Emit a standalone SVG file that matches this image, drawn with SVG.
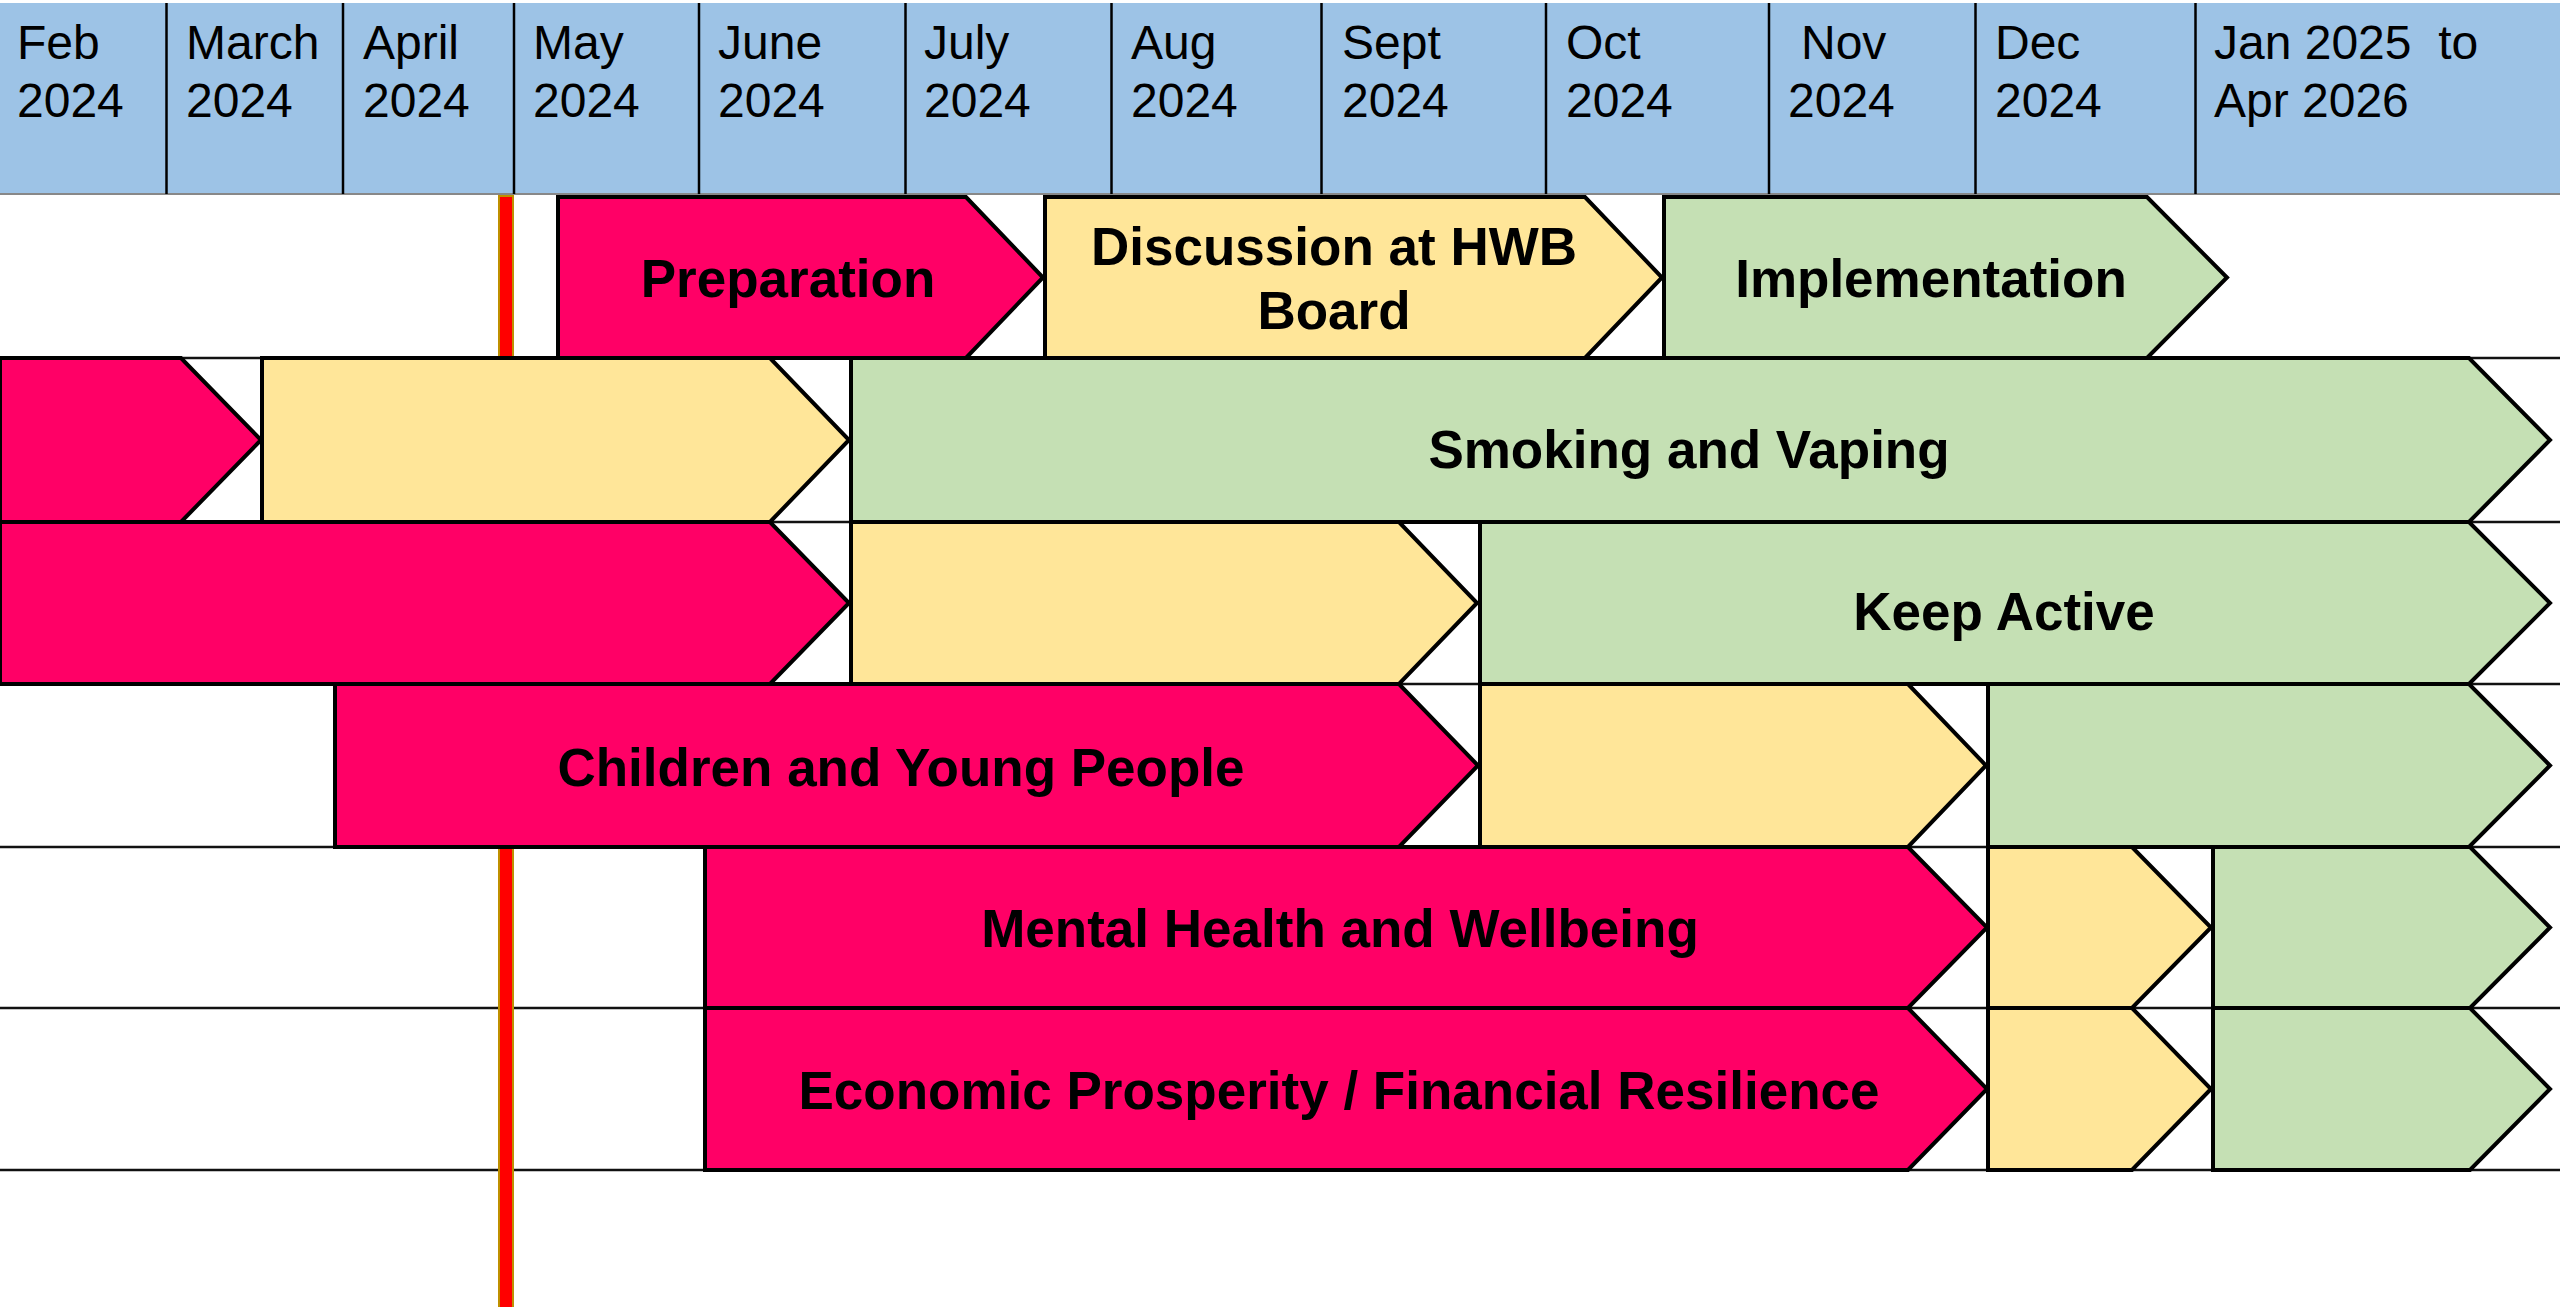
<svg xmlns="http://www.w3.org/2000/svg" width="2560" height="1307" viewBox="0 0 2560 1307">
<style>
.hd{font-family:"Liberation Sans",Arial,sans-serif;font-size:48px;fill:#000}
.lb{font-family:"Liberation Sans",Arial,sans-serif;font-size:53px;font-weight:bold;fill:#000;text-anchor:middle}
.pink{fill:#FF0066;stroke:#000;stroke-width:4;stroke-linejoin:miter}
.yel{fill:#FFE699;stroke:#000;stroke-width:4;stroke-linejoin:miter}
.grn{fill:#C5E0B4;stroke:#000;stroke-width:4;stroke-linejoin:miter}
.row{stroke:#111;stroke-width:2.5}
.div{stroke:#000;stroke-width:2.5}
</style>
<rect width="2560" height="1307" fill="#fff"/>
<g id="header">
<rect x="0" y="3" width="2560" height="191" fill="#9DC3E6"/>
<line x1="0" y1="194" x2="2560" y2="194" stroke="#888" stroke-width="2"/>
<g class="div">
<line x1="166.5" y1="3" x2="166.5" y2="194"/>
<line x1="343" y1="3" x2="343" y2="194"/>
<line x1="514" y1="3" x2="514" y2="194"/>
<line x1="699" y1="3" x2="699" y2="194"/>
<line x1="905.5" y1="3" x2="905.5" y2="194"/>
<line x1="1111.5" y1="3" x2="1111.5" y2="194"/>
<line x1="1321.5" y1="3" x2="1321.5" y2="194"/>
<line x1="1546" y1="3" x2="1546" y2="194"/>
<line x1="1769" y1="3" x2="1769" y2="194"/>
<line x1="1975.5" y1="3" x2="1975.5" y2="194"/>
<line x1="2195.5" y1="3" x2="2195.5" y2="194"/>
</g>
<text class="hd" x="17" y="59">Feb</text><text class="hd" x="17" y="117">2024</text>
<text class="hd" x="186" y="59">March</text><text class="hd" x="186" y="117">2024</text>
<text class="hd" x="363" y="59">April</text><text class="hd" x="363" y="117">2024</text>
<text class="hd" x="533" y="59">May</text><text class="hd" x="533" y="117">2024</text>
<text class="hd" x="718" y="59">June</text><text class="hd" x="718" y="117">2024</text>
<text class="hd" x="924" y="59">July</text><text class="hd" x="924" y="117">2024</text>
<text class="hd" x="1131" y="59">Aug</text><text class="hd" x="1131" y="117">2024</text>
<text class="hd" x="1342" y="59">Sept</text><text class="hd" x="1342" y="117">2024</text>
<text class="hd" x="1566" y="59">Oct</text><text class="hd" x="1566" y="117">2024</text>
<text class="hd" x="1801" y="59">Nov</text><text class="hd" x="1788" y="117">2024</text>
<text class="hd" x="1995" y="59">Dec</text><text class="hd" x="1995" y="117">2024</text>
<text class="hd" x="2214" y="59" xml:space="preserve">Jan 2025  to</text><text class="hd" x="2214" y="117">Apr 2026</text>
</g>
<g id="connectors">
<g class="row">
<line x1="0" y1="358" x2="2560" y2="358"/>
<line x1="0" y1="522" x2="2560" y2="522"/>
<line x1="0" y1="684" x2="2560" y2="684"/>
<line x1="0" y1="847" x2="2560" y2="847"/>
<line x1="0" y1="1008" x2="2560" y2="1008"/>
<line x1="0" y1="1170" x2="2560" y2="1170"/>
</g>
<rect id="today-line" x="499" y="196" width="14" height="1112" fill="#FF0000" stroke="#BF9000" stroke-width="2"/>
</g>
<g id="row1">
<g id="preparation"><polygon class="pink" points="558,197 966,197 1043,277.5 966,358 558,358"/><text class="lb" x="788" y="297">Preparation</text></g>
<g id="discussion"><polygon class="yel" points="1045,197 1585,197 1662,277.5 1585,358 1045,358"/><text class="lb" x="1334" y="265">Discussion at HWB</text><text class="lb" x="1334" y="329">Board</text></g>
<g id="implementation"><polygon class="grn" points="1664,197 2147,197 2227,277.5 2147,358 1664,358"/><text class="lb" x="1931" y="297">Implementation</text></g>
</g>
<g id="smoking-vaping">
<polygon class="pink" points="0,358 181,358 261,440 181,522 0,522"/>
<polygon class="yel" points="262,358 770,358 849,440 770,522 262,522"/>
<polygon class="grn" points="851,358 2469,358 2550,440 2469,522 851,522"/>
<text class="lb" x="1689" y="468">Smoking and Vaping</text>
</g>
<g id="keep-active">
<polygon class="pink" points="0,522 770,522 849,603 770,684 0,684"/>
<polygon class="yel" points="851,522 1399,522 1477,603 1399,684 851,684"/>
<polygon class="grn" points="1480,522 2469,522 2550,603 2469,684 1480,684"/>
<text class="lb" x="2004" y="630">Keep Active</text>
</g>
<g id="children-young-people">
<polygon class="pink" points="335,684 1399,684 1478,765.5 1399,847 335,847"/>
<polygon class="yel" points="1480,684 1908,684 1986,765.5 1908,847 1480,847"/>
<polygon class="grn" points="1988,684 2469,684 2550,765.5 2469,847 1988,847"/>
<text class="lb" x="901" y="786">Children and Young People</text>
</g>
<g id="mental-health">
<polygon class="pink" points="705,847 1908,847 1987,927.5 1908,1008 705,1008"/>
<polygon class="yel" points="1988,847 2132,847 2211,927.5 2132,1008 1988,1008"/>
<polygon class="grn" points="2213,847 2470,847 2550,927.5 2470,1008 2213,1008"/>
<text class="lb" x="1340" y="947">Mental Health and Wellbeing</text>
</g>
<g id="economic-prosperity">
<polygon class="pink" points="705,1008 1908,1008 1987,1089 1908,1170 705,1170"/>
<polygon class="yel" points="1988,1008 2132,1008 2211,1089 2132,1170 1988,1170"/>
<polygon class="grn" points="2213,1008 2470,1008 2550,1089 2470,1170 2213,1170"/>
<text class="lb" x="1339" y="1109">Economic Prosperity / Financial Resilience</text>
</g>
</svg>
